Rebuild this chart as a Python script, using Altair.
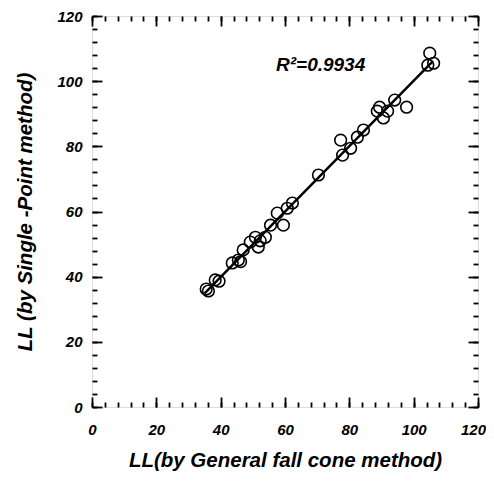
import altair as alt
import pandas as pd

# Data
ll_general = [35.5, 36.2, 38.3, 39.5, 43.6, 45.5, 46.2, 47.0, 49.2, 50.8, 51.7, 52.3,
              53.9, 55.5, 57.6, 59.5, 60.7, 62.3, 70.4, 77.3, 77.9, 80.4, 82.5, 84.4,
              88.7, 89.4, 90.6, 91.9, 94.1, 97.8, 104.4, 105.0, 106.2]
ll_single = [36.2, 35.6, 39.0, 38.6, 44.2, 45.1, 44.6, 48.2, 50.6, 52.1, 49.1, 51.0,
             52.1, 55.8, 59.5, 55.8, 61.0, 62.6, 71.2, 81.9, 77.3, 79.4, 82.8, 85.0,
             90.8, 92.0, 88.7, 90.8, 94.2, 92.0, 104.9, 108.6, 105.5]
major_ticks = [0, 20, 40, 60, 80, 100, 120]
minor_ticks = list(range(0, 121, 4))
r2_label = ["R²=0.9934"]
r2_pos_x = [57.2]
r2_pos_y = [105]
fit_extent = [35, 106]

df = pd.DataFrame({"x": ll_general, "y": ll_single})
lab = pd.DataFrame({"x": r2_pos_x, "y": r2_pos_y, "t": r2_label})

FONT = "Liberation Sans, Arial"
MAJ = 10
MIN = 5


def ax(orient, length, vals, labels=False, title=None, label_pad=0, title_pad=0,
       label_offset=None):
    kw = dict(orient=orient, values=vals, tickSize=length, offset=-length,
              domain=False, grid=False, labels=labels, ticks=True,
              tickColor="black", tickWidth=1.8, title=title)
    if labels:
        kw.update(labelFont=FONT, labelFontSize=15, labelFontWeight="bold",
                  labelFontStyle="italic", labelColor="black", labelPadding=label_pad,
                  labelFlush=False, labelOverlap=False)
        if label_offset is not None:
            kw.update(labelOffset=label_offset)
    if title:
        kw.update(titleFont=FONT, titleFontSize=20.5, titleFontWeight="bold",
                  titleFontStyle="italic", titleColor="black", titlePadding=title_pad)
    return alt.Axis(**kw)


xs = alt.Scale(domain=[0, 120], nice=False, zero=False)
ys = alt.Scale(domain=[0, 120], nice=False, zero=False)

last_label_shift = {"condition": {"test": "datum.value == 120", "value": -5}, "value": 0}

points = alt.Chart(df).mark_point(shape="circle", filled=False, size=135, opacity=1,
                                  stroke="black", strokeWidth=1.6).encode(
    x=alt.X("x:Q", scale=xs,
            axis=ax("bottom", MAJ, major_ticks, labels=True,
                    title="LL(by General fall cone method)", label_pad=15, title_pad=13,
                    label_offset=last_label_shift)),
    y=alt.Y("y:Q", scale=ys,
            axis=ax("left", MAJ, major_ticks, labels=True,
                    title="LL (by Single -Point method)", label_pad=10, title_pad=21)),
)

line = alt.Chart(df).transform_regression("x", "y", extent=fit_extent).mark_line(
    color="black", strokeWidth=2.5).encode(
    x=alt.X("x:Q", scale=xs, axis=ax("bottom", MIN, minor_ticks)),
    y=alt.Y("y:Q", scale=ys, axis=ax("left", MIN, minor_ticks)),
)

text = alt.Chart(lab).mark_text(align="left", baseline="middle", font=FONT,
                                fontSize=19, fontWeight="bold", fontStyle="italic",
                                color="black").encode(
    x=alt.X("x:Q", scale=xs, axis=ax("top", MAJ, major_ticks)),
    y=alt.Y("y:Q", scale=ys, axis=ax("right", MAJ, major_ticks)),
    text="t:N",
)

ghost = alt.Chart(df).mark_point(opacity=0).encode(
    x=alt.X("x:Q", scale=xs, axis=ax("top", MIN, minor_ticks)),
    y=alt.Y("y:Q", scale=ys, axis=ax("right", MIN, minor_ticks)),
)

chart = alt.layer(points, line, text, ghost).resolve_axis(
    x="independent", y="independent"
).properties(
    width=386, height=391,
    autosize=alt.AutoSizeParams(type="none"),
    padding={"left": 84, "top": 8, "right": 8, "bottom": 68},
).configure_view(stroke="black", strokeWidth=2.2).configure(background="white")

chart.save("out.html", embed_options={"renderer": "svg", "actions": False})
